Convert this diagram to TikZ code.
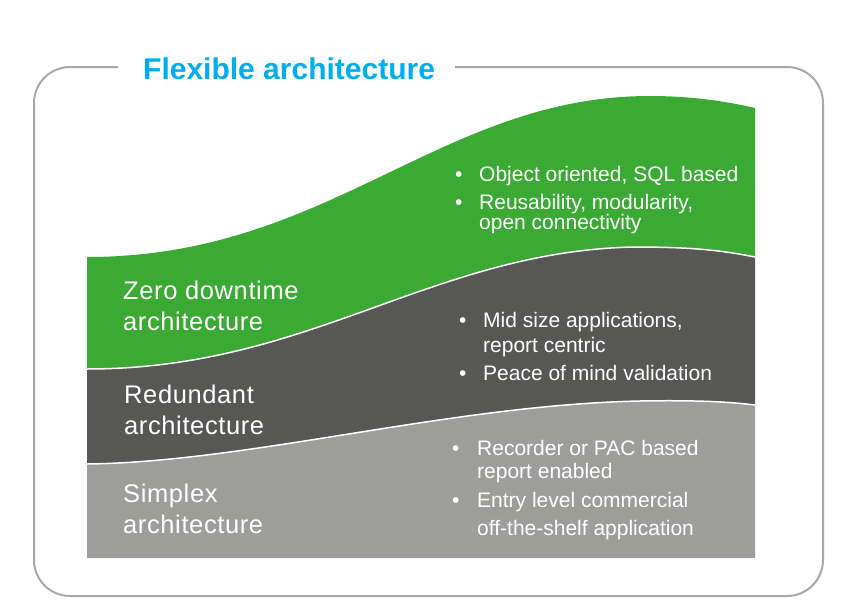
\documentclass[tikz,border=0pt]{standalone}
\usepackage{fontspec}
\setmainfont{Liberation Sans}
\definecolor{fgreen}{HTML}{3BAA35}
\definecolor{fdark}{HTML}{575756}
\definecolor{flight}{HTML}{9D9D9C}
\definecolor{fframe}{HTML}{A7A9AC}
\definecolor{ftitle}{HTML}{00AEEF}
\tikzset{
  bandlabel/.style={anchor=base west, align=left, text=white, inner sep=0pt,
    font=\fontsize{25.5}{31}\selectfont\addfontfeature{LetterSpace=2.4}},
  bulletdot/.style={anchor=base west, text=white, inner sep=0pt,
    font=\fontsize{21}{20}\selectfont},
  bullettext/.style={anchor=base west, align=left, text=white, inner sep=0pt,
    font=\fontsize{21}{20}\selectfont},
  sepline/.style={white, line width=1.5pt},
}
\begin{document}
\begin{tikzpicture}[x=1pt,y=-1pt]
\useasboundingbox (0,0) rectangle (844,616);
% frame
\draw[fframe, line width=2pt, rounded corners=36pt]
  (118,67) -- (34,67) -- (34,596) -- (823,596) -- (823,67) -- (455,67);
\node[anchor=base west, inner sep=0pt, text=ftitle,
  font=\fontsize{30}{36}\selectfont\bfseries] (title) at (143,79) {Flexible architecture};
% bands
\fill[fgreen] (87,257) .. controls (330,257) and (440,96) .. (650,96)
  .. controls (690,96) and (725,101) .. (755,108)
  -- (755,257)
  .. controls (720,250) and (690,247) .. (633,247)
  .. controls (430,252) and (310,369) .. (87,369) -- cycle;
\fill[fdark] (87,369) .. controls (310,369) and (430,252) .. (633,247)
  .. controls (690,247) and (720,250) .. (755,257)
  -- (755,405)
  .. controls (730,402) and (700,400) .. (640,401)
  .. controls (450,405) and (250,462) .. (87,464) -- cycle;
\fill[flight] (87,464) .. controls (250,462) and (450,405) .. (640,401)
  .. controls (700,400) and (730,402) .. (755,405)
  -- (755,558) -- (87,558) -- cycle;
\draw[sepline] (87,369) .. controls (310,369) and (430,252) .. (633,247)
  .. controls (690,247) and (720,250) .. (755,257);
\draw[sepline] (87,464) .. controls (250,462) and (450,405) .. (640,401)
  .. controls (700,400) and (730,402) .. (755,405);
% labels (anchor = baseline of last line)
\node[bandlabel] (zero) at (123,330) {Zero downtime\\architecture};
\node[bandlabel] (red) at (124,434) {Redundant\\architecture};
\node[bandlabel] (simp) at (123,533) {Simplex\\architecture};
% green bullets
\node[bulletdot] (g1d) at (455,181) {•};
\node[bullettext] (g1) at (479,181) {Object oriented, SQL based};
\node[bulletdot] (g2d) at (455,209) {•};
\node[bullettext] (g2) at (479,229) {Reusability, modularity,\\open connectivity};
% dark bullets
\node[bulletdot] (d1d) at (459,327) {•};
\node[bullettext, font=\fontsize{21}{25}\selectfont] (d1) at (483,352) {Mid size applications,\\report centric};
\node[bulletdot] (d2d) at (459,380) {•};
\node[bullettext] (d2) at (483,380) {Peace of mind validation};
% light bullets
\node[bulletdot] (l1d) at (452,455) {•};
\node[bullettext, font=\fontsize{21}{23}\selectfont] (l1) at (477,478) {Recorder or PAC based\\report enabled};
\node[bulletdot] (l2d) at (452,507) {•};
\node[bullettext, font=\fontsize{21}{28}\selectfont] (l2) at (477,535) {Entry level commercial\\off-the-shelf application};
\end{tikzpicture}
\end{document}
